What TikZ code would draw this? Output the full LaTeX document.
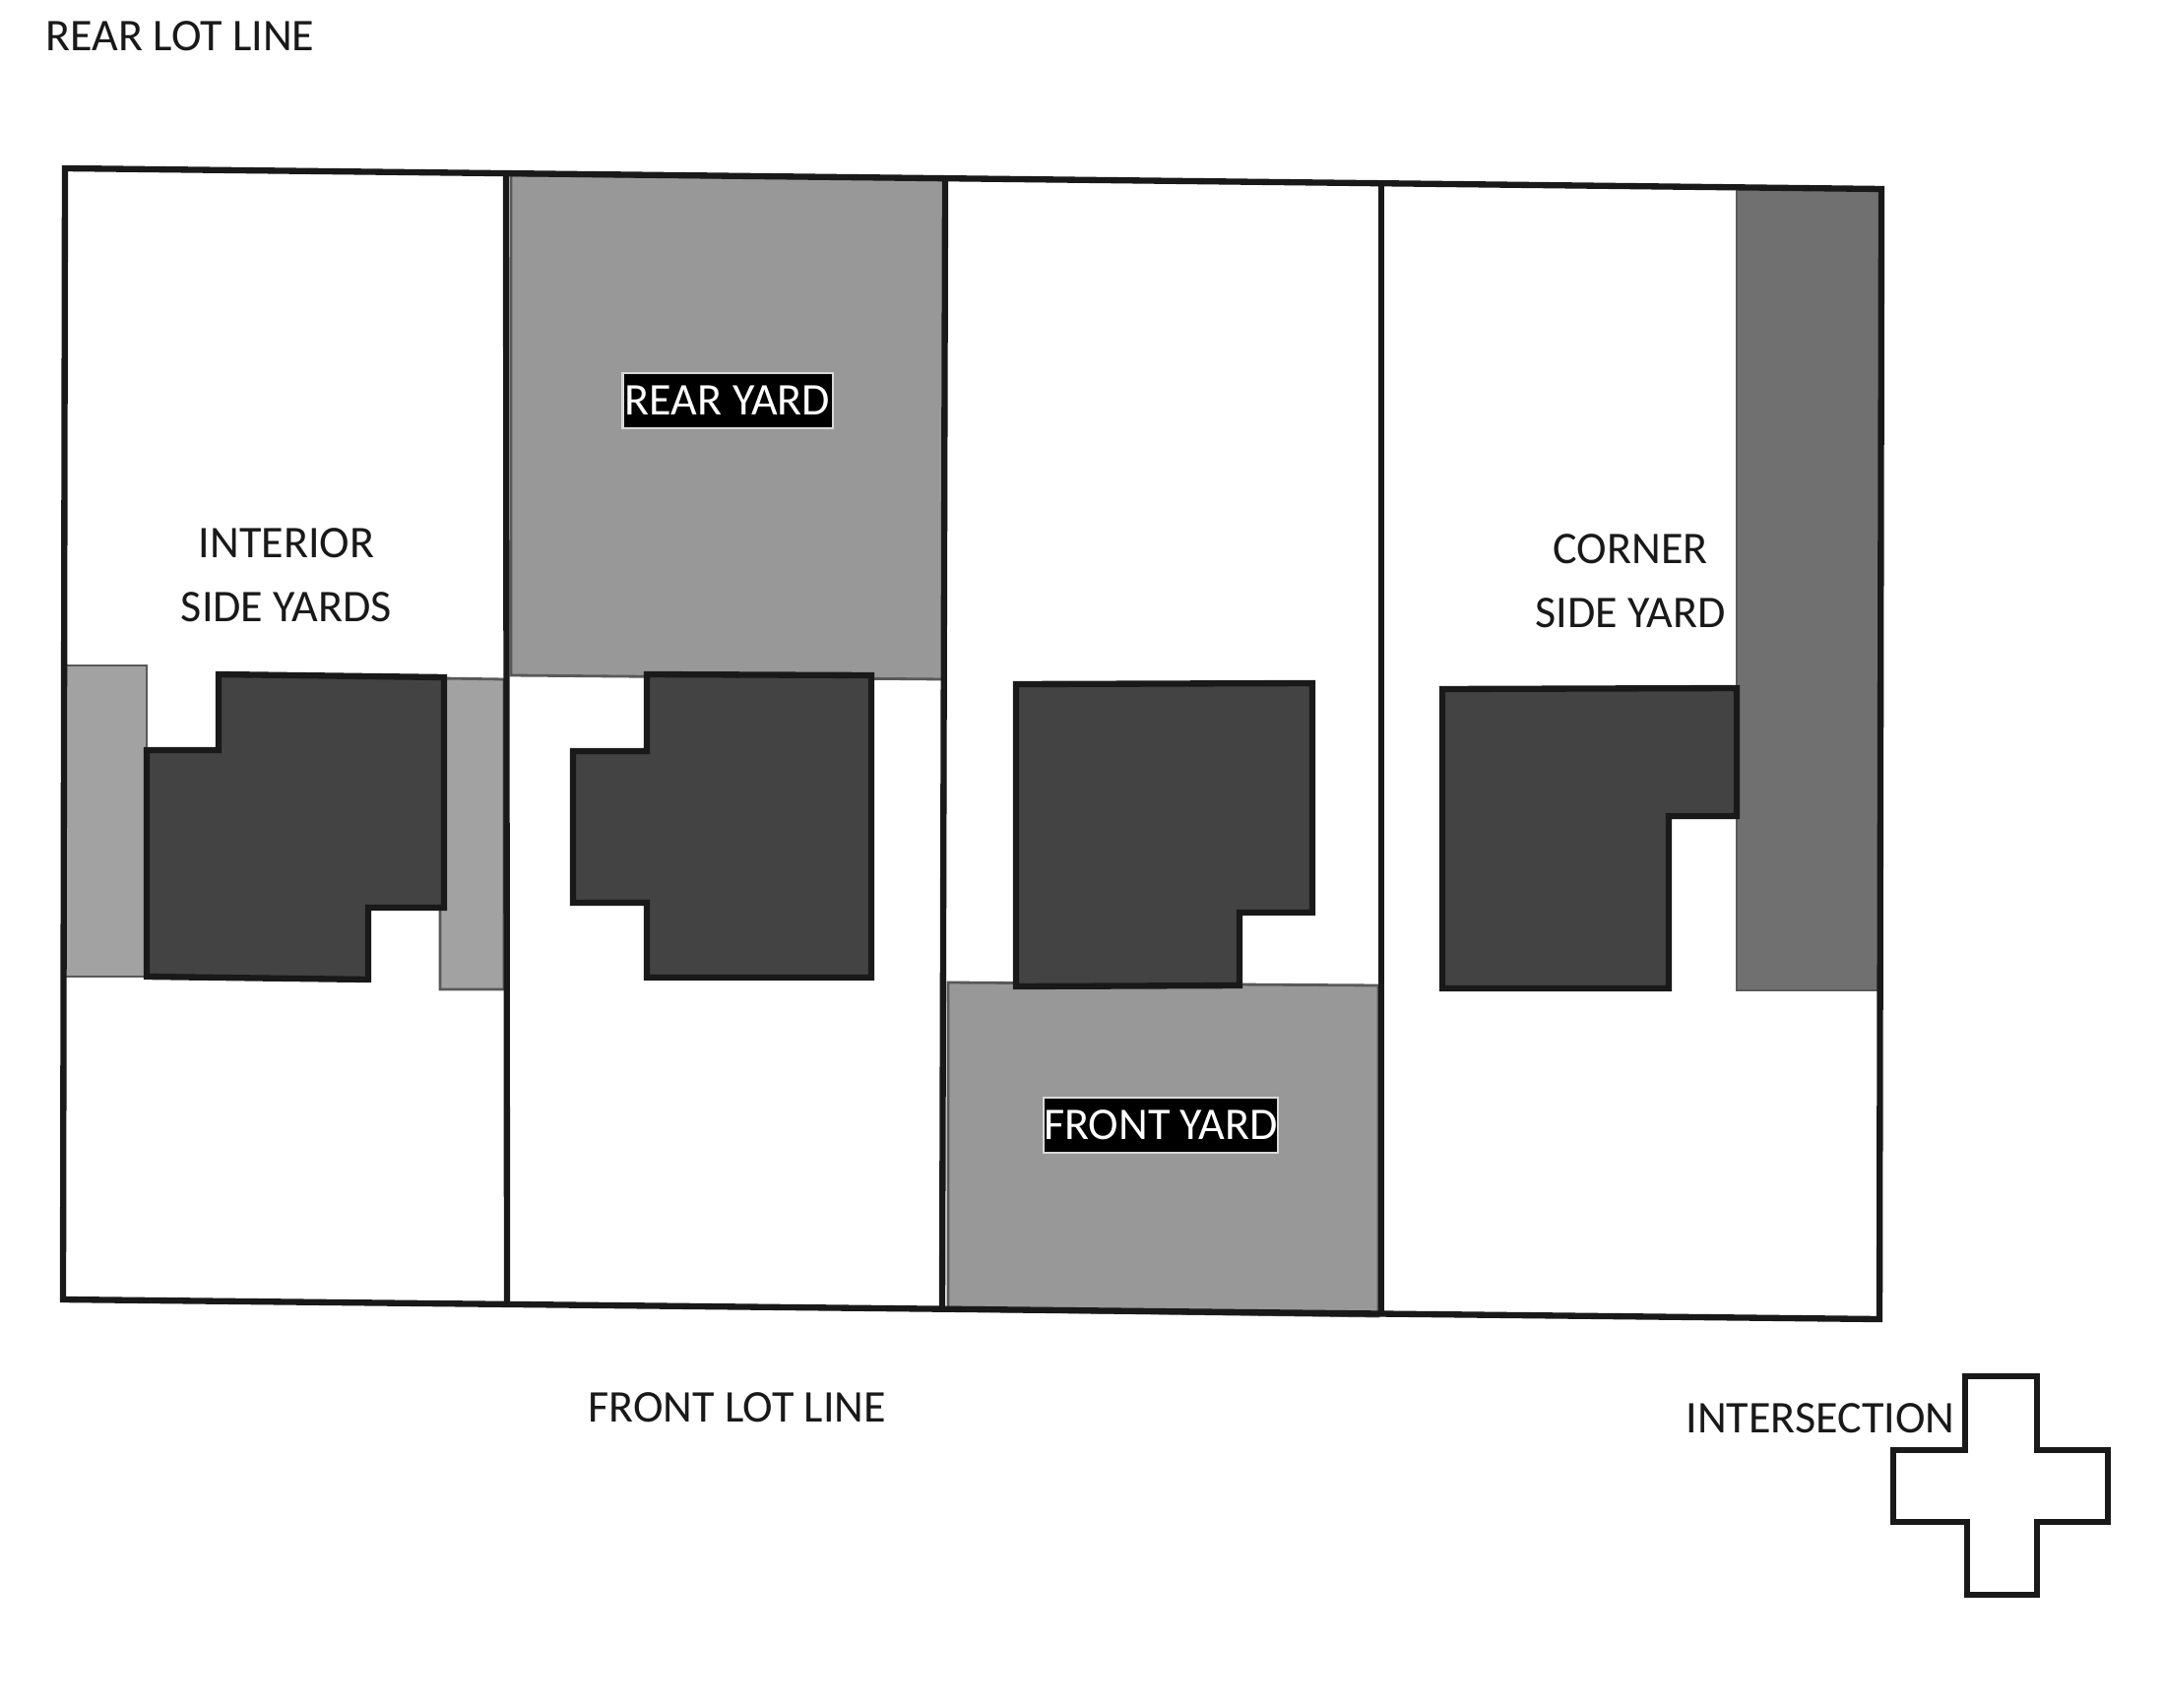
\documentclass[tikz,border=0pt]{standalone}
\usepackage{fontspec}
\setmainfont{Carlito}
\definecolor{yardgray}{HTML}{989898}
\definecolor{sidegray}{HTML}{A2A2A2}
\definecolor{cornergray}{HTML}{707070}
\definecolor{housegray}{HTML}{434343}
\tikzset{
  lotline/.style={black!90,line width=1.8pt,line join=miter},
  yard/.style={fill=yardgray,draw=black!65,line width=0.8pt},
  house/.style={fill=housegray,draw=black!90,line width=1.8pt,line join=miter},
  lbl/.style={inner sep=0pt,align=center,font=\fontsize{13.1}{18.6}\selectfont,text=black!90},
  yardlbl/.style={fill=black,draw=white!85!black,line width=0.6pt,text=white,inner sep=0pt,
    font=\fontsize{13.1}{16}\selectfont,minimum height=0.56cm}
}
\begin{document}
\begin{tikzpicture}[x=0.01cm,y=-0.01cm]
  \useasboundingbox [fill=white] (0,0) rectangle (2198,1734);
  % yards
  \draw [yard] (519,178) -- (959,182) -- (959,690) -- (519,686) -- cycle;
  \draw [yard] (963,998) -- (1400,1001) -- (1400,1337) -- (963,1331) -- cycle;
  \draw [yard,fill=sidegray] (65,676) -- (149,676) -- (149,992) -- (65,992) -- cycle;
  \draw [yard,fill=sidegray] (447,689) -- (512,690) -- (512,1005) -- (447,1005) -- cycle;
  \draw [yard,fill=cornergray] (1764,192) -- (1909,192) -- (1909,1006) -- (1764,1006) -- cycle;
  % houses
  \draw [house] (222,685) -- (451,688) -- (451,922) -- (374,922) -- (374,995) -- (149,992)
    -- (149,762) -- (222,762) -- cycle;
  \draw [house] (657,685) -- (885,686) -- (885,993) -- (657,993) -- (657,917) -- (582,917)
    -- (582,763) -- (657,763) -- cycle;
  \draw [house] (1032,695) -- (1333,694) -- (1333,927) -- (1259,927) -- (1259,1001)
    -- (1032,1002) -- cycle;
  \draw [house] (1465,700) -- (1764,699) -- (1764,829) -- (1695,829) -- (1695,1004)
    -- (1465,1004) -- cycle;
  % lot lines
  \draw [lotline] (66,171) -- (1911,192) -- (1909,1340) -- (64,1320) -- cycle;
  \draw [lotline] (514,175) -- (515,1325);
  \draw [lotline] (960,182) -- (957,1331);
  \draw [lotline] (1403,187) -- (1403,1336);
  % cross at the corner
  \draw [lotline] (1996,1398) -- (2069,1398) -- (2069,1473) -- (2141,1473) -- (2141,1546)
    -- (2069,1546) -- (2069,1620) -- (1998,1620) -- (1998,1546) -- (1923,1546)
    -- (1923,1473) -- (1996,1473) -- cycle;
  % labels
  \node [lbl] (rearlot) at (183,37) {REAR LOT LINE};
  \node [lbl] (interior) at (291,584) {INTERIOR\\SIDE YARDS};
  \node [lbl] (corner) at (1656,590) {CORNER\\SIDE YARD};
  \node [lbl] (frontlot) at (749,1430) {FRONT LOT LINE};
  \node [lbl] (crossing) at (1849,1441) {INTERSECTION};
  \node [yardlbl,minimum width=2.13cm] (rearyard) at (739,407) {REAR YARD};
  \node [yardlbl,minimum width=2.38cm] (frontyard) at (1179,1143) {FRONT YARD};
\end{tikzpicture}
\end{document}
